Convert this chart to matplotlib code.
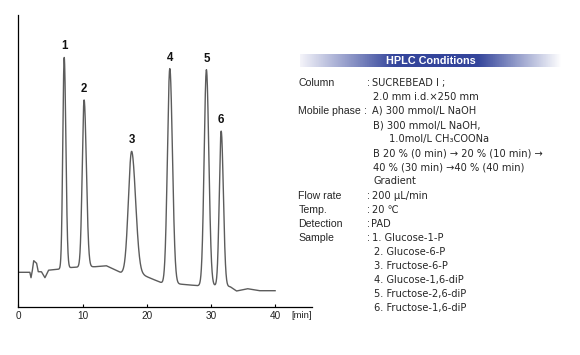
import numpy as np
import matplotlib
matplotlib.use("Agg")
import matplotlib.pyplot as plt
from matplotlib.colors import LinearSegmentedColormap

# ---------------- data ----------------
# peak table (signal in arbitrary units above baseline)
peak_labels = ["1", "2", "3", "4", "5", "6"]
peak_times = [7.15, 10.25, 17.65, 23.6, 29.3, 31.6]          # min
peak_heights = [211, 167, 122, 215, 216, 155]
peak_sigma_left = [0.22, 0.29, 0.50, 0.37, 0.35, 0.29]
peak_sigma_right = [0.26, 0.35, 0.62, 0.41, 0.38, 0.34]

# baseline (time, signal)
baseline_t = [0, 1.8, 1.98, 2.15, 2.4, 2.85, 3.1, 3.6, 4.15, 4.7, 6.2, 8.5, 12, 13.7,
              16, 18.5, 19.5, 22.5, 25, 28, 30.5, 33, 34, 35.7, 37.5, 40]
baseline_y = [34.4, 34.4, 29, 34.5, 46, 43.4, 35, 35, 29, 36.5, 37.4, 39.4, 40, 41,
              34, 33, 31.4, 23.4, 22.7, 21, 21, 20, 15.7, 18, 16, 16]

x_ticks = [0, 10, 20, 30, 40]
x_unit = "[min]"

title = "HPLC Conditions"
cond_labels = ["Column", "", "Mobile phase", "", "", "", "", "",
               "Flow rate", "Temp.", "Detection", "Sample", "", "", "", "", ""]
cond_values = ["SUCREBEAD I ;", "2.0 mm i.d.×250 mm",
               "A) 300 mmol/L NaOH", "B) 300 mmol/L NaOH,", "1.0mol/L CH₃COONa",
               "B 20 % (0 min) → 20 % (10 min) →", "40 % (30 min) →40 % (40 min)",
               "Gradient", "200 μL/min", "20 ℃", "PAD",
               "1. Glucose-1-P", "2. Glucose-6-P", "3. Fructose-6-P",
               "4. Glucose-1,6-diP", "5. Fructose-2,6-diP", "6. Fructose-1,6-diP"]

# ---------------- figure ----------------
W, H = 580, 355
fig = plt.figure(figsize=(W / 100, H / 100), dpi=100)
lab_fam = ["Liberation Sans", "DejaVu Sans"]
val_fam = ["DejaVu Sans", "Noto Sans CJK JP"]
plt.rcParams["font.family"] = lab_fam

def fx(px):
    return px / W

def fy(py):
    return 1 - py / H

ax_l, ax_r, ax_b, ax_t = 18.3, 312.0, 306.7, 15.0
ax = fig.add_axes([fx(ax_l), fy(ax_b), fx(ax_r - ax_l), (ax_b - ax_t) / H])

t = np.linspace(0, 40, 4001)
sig = np.interp(t, baseline_t, baseline_y)
for tr, h, sl, sr in zip(peak_times, peak_heights, peak_sigma_left, peak_sigma_right):
    s = np.where(t < tr, sl, sr)
    sig = sig + h * np.exp(-0.5 * ((t - tr) / s) ** 2)

ax.plot(t, sig, color="#5c5c5c", lw=1.0, solid_joinstyle="round")

px_per_min = 6.42
ax.set_xlim(0, (ax_r - ax_l) / px_per_min)
ax.set_ylim(0, ax_b - ax_t)

for lab, tr in zip(peak_labels, peak_times):
    top = np.interp(tr, t, sig)
    ax.annotate(lab, (tr, top), xytext=(0, 5), textcoords="offset pixels",
                ha="center", va="bottom", fontsize=8.3, fontweight="bold",
                color="#111111")

for sp in ["top", "right"]:
    ax.spines[sp].set_visible(False)
for sp in ["left", "bottom"]:
    ax.spines[sp].set_linewidth(0.9)
    ax.spines[sp].set_color("black")
ax.set_yticks([])
ax.set_xticks(x_ticks)
ax.set_xticklabels([str(v) for v in x_ticks])
ax.tick_params(axis="x", direction="in", length=2.5, width=0.8, pad=3,
               labelsize=7.2, labelcolor="#222222")
ax.set_facecolor("none")

fig.text(fx(301.7), fy(315.5), x_unit, ha="center", va="center", fontsize=6.8,
         color="#222222")

# gradient header bar
bar_l, bar_r, bar_t, bar_b = 300, 562, 53.7, 67.3
bax = fig.add_axes([fx(bar_l), fy(bar_b), fx(bar_r - bar_l), (bar_b - bar_t) / H])
cmap = LinearSegmentedColormap.from_list(
    "hdr", [(0.0, "#f3f3f9"), (0.36, "#34459b"), (0.68, "#34459b"), (1.0, "#ffffff")])
bax.imshow(np.linspace(0, 1, 400)[None, :], aspect="auto", cmap=cmap,
           extent=[0, 1, 0, 1])
bax.set_axis_off()
fig.text(fx(431), fy(60.5), title, ha="center", va="center", fontsize=7.8,
         fontweight="bold", color="white")

# conditions text
row0, dy = 82.7, 14.1
lab_x, col_x, val_x = 298.3, 366.5, 371.5
tc = "#262626"
for i, (lab, val) in enumerate(zip(cond_labels, cond_values)):
    y = fy(row0 + i * dy)
    if lab:
        fig.text(fx(lab_x), y, lab, ha="left", va="center", fontsize=7.6,
                 color=tc, family=lab_fam)
        cx = 364 if lab == "Mobile phase" else col_x
        fig.text(fx(cx), y, ":", ha="left", va="center", fontsize=7.6,
                 color=tc, family=lab_fam)
    vx = val_x
    if i == 4:
        vx = 389
    elif i >= 12:
        vx = 374
    elif i in (1, 3, 5, 6, 7):
        vx = 373
    fig.text(fx(vx), y, val, ha="left", va="center", fontsize=7.1, color=tc,
             family=val_fam)

fig.savefig("out.png", dpi=100)
